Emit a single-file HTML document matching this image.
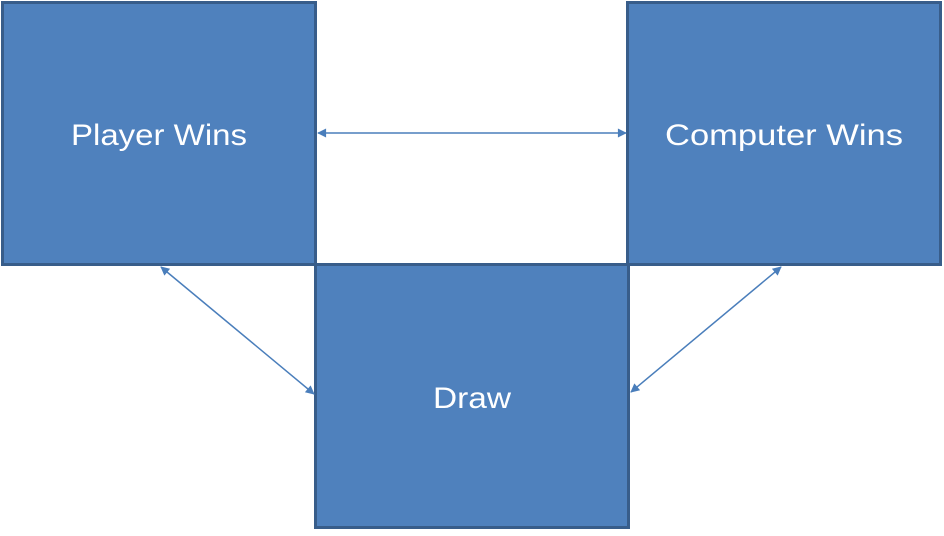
<!DOCTYPE html>
<html><head><style>
body{margin:0;width:944px;height:531px;background:#fff;overflow:hidden;font-family:"Liberation Sans","DejaVu Sans",sans-serif}
</style></head><body>
<svg width="944" height="531" viewBox="0 0 944 531">
<defs>
<marker id="a" viewBox="0 0 10 10" refX="9" refY="5" markerWidth="10" markerHeight="9" orient="auto-start-reverse" markerUnits="userSpaceOnUse">
<path d="M0,0L10,5L0,10z" fill="#4a7ebb"/></marker>
</defs>
<g fill="#4f81bd" stroke="#385d8a" stroke-width="3">
<rect x="2.5" y="2.5" width="313" height="262"/>
<rect x="627.5" y="2.5" width="313" height="262"/>
<rect x="315.5" y="264.5" width="313" height="263"/>
</g>
<g stroke="#4a7ebb" stroke-width="1.5" fill="none" marker-start="url(#a)" marker-end="url(#a)">
<line x1="318" y1="133" x2="626" y2="133"/>
<line x1="161" y1="267" x2="314" y2="394"/>
<line x1="781" y1="267" x2="631" y2="392"/>
</g>
<g fill="#fff" font-size="30" text-anchor="middle" font-family="Liberation Sans, sans-serif">
<text x="159" y="145" textLength="176" lengthAdjust="spacingAndGlyphs">Player Wins</text>
<text x="784" y="145" textLength="238" lengthAdjust="spacingAndGlyphs">Computer Wins</text>
<text x="472" y="408" textLength="78" lengthAdjust="spacingAndGlyphs">Draw</text>
</g>
</svg>
</body></html>
